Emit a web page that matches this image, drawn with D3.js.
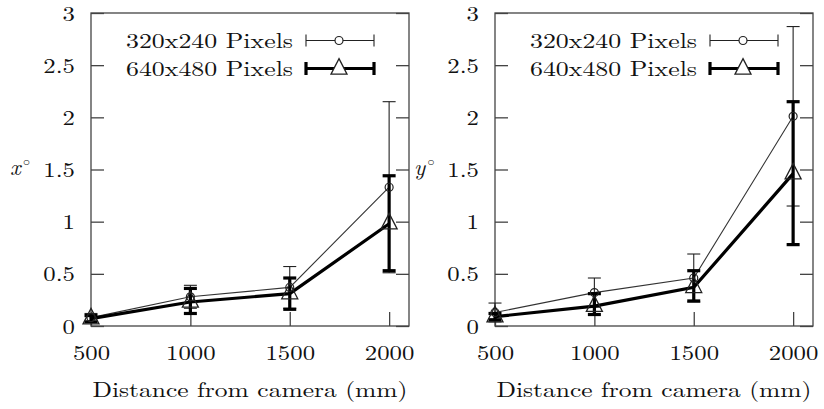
<!DOCTYPE html>
<html><head><meta charset="utf-8">
<script src="https://cdn.jsdelivr.net/npm/d3@7"></script>
<style>body{margin:0;background:#fff}svg{display:block}</style>
</head><body><svg id="c" width="824" height="409"></svg>
<script>
// ---- data ----
const distances = [500, 1000, 1500, 2000];
const xTicks = [500, 1000, 1500, 2000];
const yTicks = [0, 0.5, 1, 1.5, 2, 2.5, 3];
const seriesNames = ["320x240 Pixels", "640x480 Pixels"];
// left panel (x°)
const xLowMean = [0.08, 0.28, 0.37, 1.33];
const xLowMin  = [0.04, 0.17, 0.17, 0.51];
const xLowMax  = [0.12, 0.39, 0.57, 2.15];
const xHighMean = [0.07, 0.23, 0.31, 0.98];
const xHighMin  = [0.04, 0.12, 0.16, 0.53];
const xHighMax  = [0.10, 0.36, 0.46, 1.44];
// right panel (y°)
const yLowMean = [0.13, 0.32, 0.46, 2.01];
const yLowMin  = [0.04, 0.18, 0.23, 1.15];
const yLowMax  = [0.22, 0.46, 0.69, 2.87];
const yHighMean = [0.09, 0.19, 0.37, 1.46];
const yHighMin  = [0.06, 0.11, 0.24, 0.78];
const yHighMax  = [0.12, 0.31, 0.53, 2.15];

const svg = d3.select("#c");
const FRAME = "#444";
const FF = '"Latin Modern Roman", "Liberation Serif", serif';

function panel(left, yLabel, lowM, lowMin, lowMax, highM, highMin, highMax) {
  const top = 13, bottom = 326, right = left + 318;
  const x = d3.scaleLinear().domain([500, 2100]).range([left, right]);
  const y = d3.scaleLinear().domain([0, 3]).range([bottom, top]);
  const g = svg.append("g");

  // axes (inner ticks)
  const ax = g.append("g").attr("transform", `translate(0,${bottom})`)
    .call(d3.axisBottom(x).tickValues(xTicks).tickSize(-14).tickPadding(18).tickSizeOuter(0).tickFormat(d3.format("d")));
  const ayl = g.append("g").attr("transform", `translate(${left},0)`)
    .call(d3.axisLeft(y).tickValues(yTicks).tickSize(-13).tickPadding(16).tickSizeOuter(0).tickFormat(d => String(d)));
  const ayr = g.append("g").attr("transform", `translate(${right},0)`)
    .call(d3.axisRight(y).tickValues(yTicks).tickSize(-13).tickSizeOuter(0).tickFormat(""));
  [ax, ayl, ayr].forEach(a => {
    a.attr("font-family", null).attr("font-size", null);
    a.select(".domain").remove();
    a.selectAll("line").attr("stroke", FRAME).attr("stroke-width", 1.3);
  });
  ax.selectAll("text").attr("y", null).attr("dy", null)
    .attr("transform", "translate(0,34) scale(1.18,1)")
    .style("font-family", FF).style("font-size", "21px").attr("fill", "#111");
  ayl.selectAll("text").attr("x", null).attr("dy", null)
    .attr("transform", "translate(-16,7) scale(1.18,1)")
    .style("font-family", FF).style("font-size", "21px").attr("fill", "#111");

  // frame
  g.append("rect").attr("x", left).attr("y", top).attr("width", right - left).attr("height", bottom - top)
    .attr("fill", "none").attr("stroke", FRAME).attr("stroke-width", 1.3);

  // axis title
  g.append("text").attr("x", (left + right) / 2).attr("y", 397).attr("text-anchor", "middle")
    .style("font-family", FF).style("font-size", "21px").attr("fill", "#111")
    .attr("textLength", 315).attr("lengthAdjust", "spacingAndGlyphs")
    .text("Distance from camera (mm)");

  // y label
  const yl = g.append("text").attr("x", left - 81).attr("y", 175)
    .style("font-family", FF).style("font-size", "23px").attr("fill", "#111");
  yl.append("tspan").attr("font-style", "italic").text(yLabel);
  yl.append("tspan").attr("dx", 2).attr("dy", -9).style("font-size", "12px").text("○");

  const line = d3.line().x((d, i) => x(distances[i])).y(d => y(d));
  const cap = 6.5;

  function errorBars(mean, mn, mx, w, color) {
    const eb = g.append("g").attr("stroke", color).attr("stroke-width", w).attr("fill", "none");
    distances.forEach((d, i) => {
      const cx = x(d);
      eb.append("line").attr("x1", cx).attr("x2", cx).attr("y1", y(mn[i])).attr("y2", y(mx[i]));
      eb.append("line").attr("x1", cx - cap).attr("x2", cx + cap).attr("y1", y(mn[i])).attr("y2", y(mn[i]));
      eb.append("line").attr("x1", cx - cap).attr("x2", cx + cap).attr("y1", y(mx[i])).attr("y2", y(mx[i]));
    });
  }
  // thin series
  g.append("path").datum(lowM).attr("d", line).attr("fill", "none").attr("stroke", "#333").attr("stroke-width", 1.1);
  errorBars(lowM, lowMin, lowMax, 1.1, "#222");
  // thick series
  g.append("path").datum(highM).attr("d", line).attr("fill", "none").attr("stroke", "#000").attr("stroke-width", 3.2);
  errorBars(highM, highMin, highMax, 3.2, "#000");

  // markers
  g.selectAll("circle.m").data(lowM).enter().append("circle")
    .attr("cx", (d, i) => x(distances[i])).attr("cy", d => y(d)).attr("r", 4)
    .attr("fill", "none").attr("stroke", "#222").attr("stroke-width", 1.2);
  const tri = (cx, cy) => {
    const hw = 8, h = 15.5;
    return `M${cx},${cy - h * 2 / 3}L${cx + hw},${cy + h / 3}L${cx - hw},${cy + h / 3}Z`;
  };
  g.selectAll("path.t").data(highM).enter().append("path")
    .attr("d", (d, i) => tri(x(distances[i]), y(d)))
    .attr("fill", "none").attr("stroke", "#222").attr("stroke-width", 1.3);

  // legend
  const lx0 = left + 215, lx1 = left + 283, lxm = left + 248;
  const rows = [40.5, 68.5];
  [0, 1].forEach(k => {
    g.append("text").attr("x", left + 202).attr("y", rows[k] + 7.5).attr("text-anchor", "end")
      .style("font-family", FF).style("font-size", "21px").attr("fill", "#111")
      .attr("textLength", 167).attr("lengthAdjust", "spacingAndGlyphs").text(seriesNames[k]);
    const w = k === 0 ? 1.1 : 3.2, c = k === 0 ? "#222" : "#000", ch = k === 0 ? 6 : 6.5;
    const lg = g.append("g").attr("stroke", c).attr("stroke-width", w);
    lg.append("line").attr("x1", lx0).attr("x2", lx1).attr("y1", rows[k]).attr("y2", rows[k]);
    lg.append("line").attr("x1", lx0).attr("x2", lx0).attr("y1", rows[k] - ch).attr("y2", rows[k] + ch);
    lg.append("line").attr("x1", lx1).attr("x2", lx1).attr("y1", rows[k] - ch).attr("y2", rows[k] + ch);
    if (k === 0) {
      g.append("circle").attr("cx", lxm).attr("cy", rows[k]).attr("r", 4)
        .attr("fill", "#fff").attr("stroke", "#222").attr("stroke-width", 1.2);
    } else {
      g.append("path").attr("d", tri(lxm, rows[k] + 0.5)).attr("fill", "#fff")
        .attr("stroke", "#222").attr("stroke-width", 1.3);
    }
  });
}

panel(91, "x", xLowMean, xLowMin, xLowMax, xHighMean, xHighMin, xHighMax);
panel(495, "y", yLowMean, yLowMin, yLowMax, yHighMean, yHighMin, yHighMax);
</script></body></html>
